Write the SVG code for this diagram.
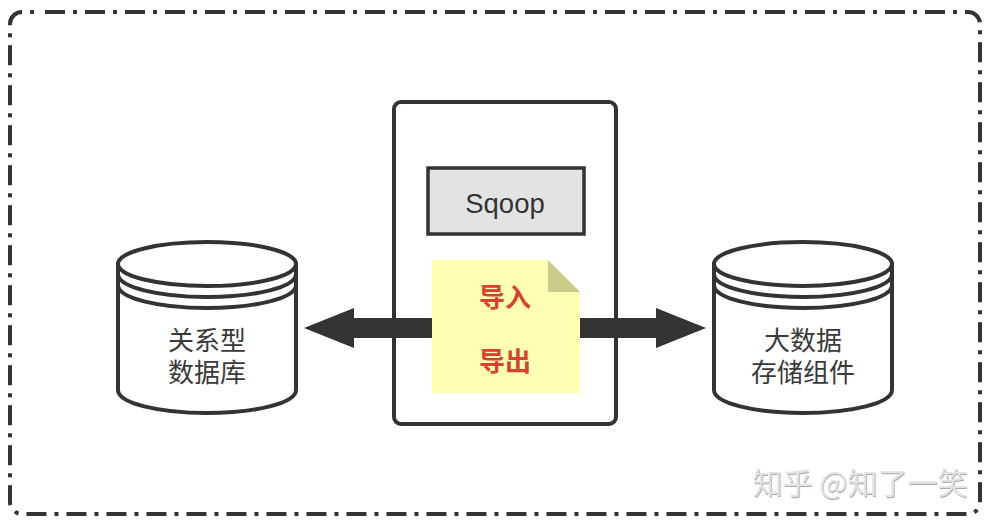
<svg xmlns="http://www.w3.org/2000/svg" width="994" height="524" viewBox="0 0 994 524">
<defs>
<style>
.ln{fill:none;stroke:#333;stroke-width:4}
.cy{fill:#fff;stroke:#333;stroke-width:4}
.t{font-family:"Noto Sans CJK SC","Liberation Sans",sans-serif;font-size:26px;fill:#3a3a3a;text-anchor:middle}
.r{font-family:"Noto Sans CJK SC",sans-serif;font-size:26px;font-weight:700;fill:#d9402f;text-anchor:middle}
.w{font-family:"Noto Sans CJK SC","Liberation Sans",sans-serif;font-size:30px;text-anchor:middle}
</style>
</defs>
<rect width="994" height="524" fill="#fff"/>
<g id="frame"><path class="ln" stroke-dasharray="20 8 4 8" d="M45 12H968A12 12 0 0 1 980 24V502A12 12 0 0 1 968 514H22A12 12 0 0 1 10 502V24A12 12 0 0 1 22 12H42"/></g>
<g id="db-left">
<path class="cy" d="M118 264V390C118 403 158 413 207 413S296 403 296 390V264Z"/>
<ellipse class="cy" cx="207" cy="264" rx="89" ry="22"/>
<path class="ln" d="M118 274C118 287 158 297 207 297S296 287 296 274M118 285C118 298 158 308 207 308S296 298 296 285"/>
<text class="t" x="207" y="350">关系型<tspan x="207" y="382">数据库</tspan></text>
</g>
<g id="db-right">
<path class="cy" d="M714 264V390C714 403 754 413 803 413S892 403 892 390V264Z"/>
<ellipse class="cy" cx="803" cy="264" rx="89" ry="22"/>
<path class="ln" d="M714 274C714 287 754 297 803 297S892 287 892 274M714 285C714 298 754 308 803 308S892 298 892 285"/>
<text class="t" x="803" y="350">大数据<tspan x="803" y="382">存储组件</tspan></text>
</g>
<g id="sqoop-box"><rect class="ln" x="394" y="102" width="222" height="322" rx="7"/></g>
<g id="connectors" fill="#333">
<path d="M304 328L354 308V318H432V338H354V348Z"/>
<path d="M706 328L656 308V318H580V338H656V348Z"/>
</g>
<g id="sqoop"><rect x="428" y="168" width="156" height="66" fill="#e3e3e3" stroke="#333" stroke-width="3.5"/>
<text x="505" y="213" font-family="'Liberation Sans',Arial,sans-serif" font-size="27.5" fill="#333" text-anchor="middle">Sqoop</text></g>
<g id="note">
<path d="M432 260H548L580 292V393H432Z" fill="#ffffb3"/>
<path d="M548 260L580 292H548Z" fill="#cccc8a"/>
<text class="r" x="505" y="307">导入</text>
<text class="r" x="505" y="371">导出</text>
</g>
<g id="watermark">
<text class="w" x="860.700" y="494.700" fill="#aaa">知乎 @知了一笑</text>
<text class="w" x="860" y="494" fill="#e2e2e2">知乎 @知了一笑</text>
</g>
</svg>
